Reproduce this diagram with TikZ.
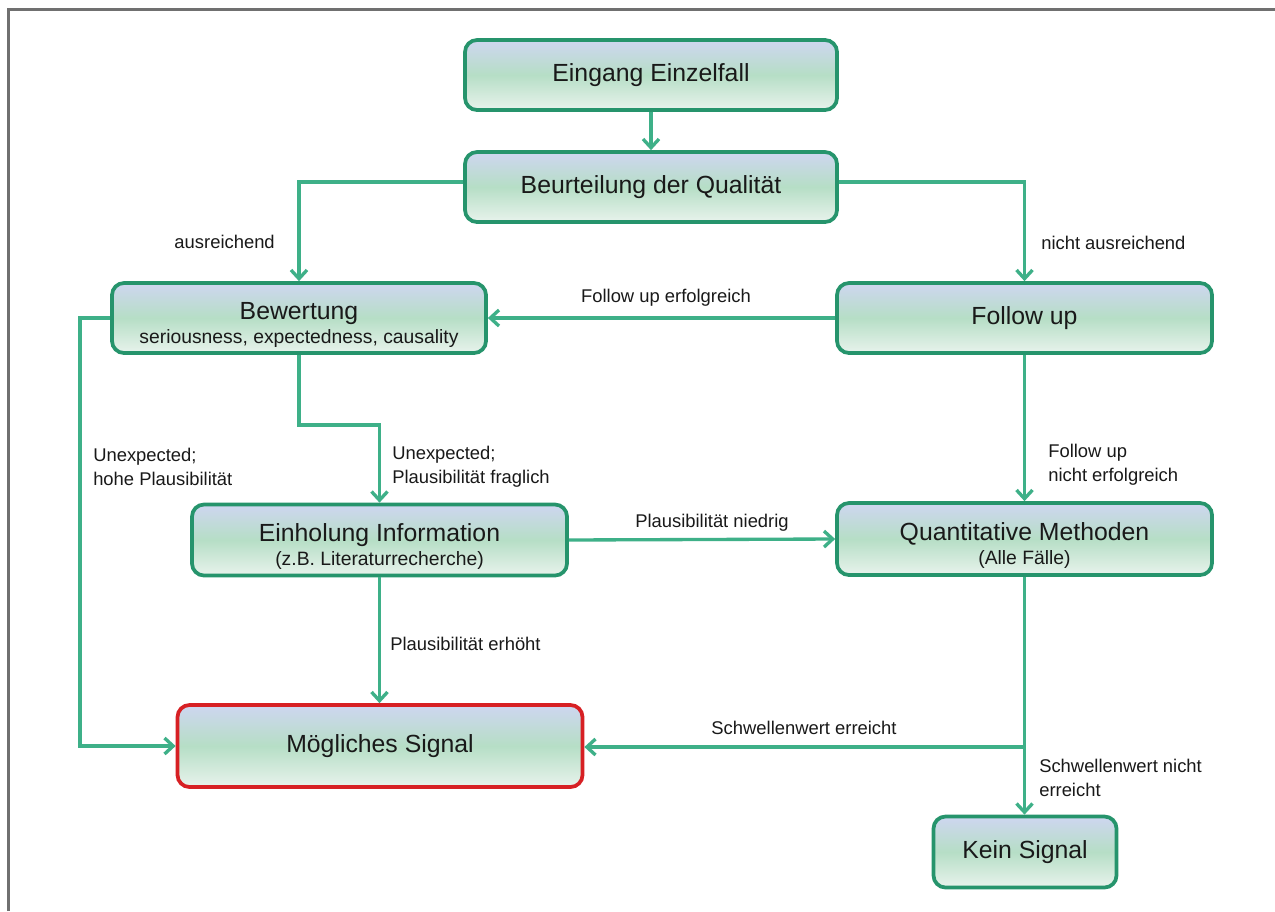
\documentclass[tikz,border=0pt]{standalone}
\usepackage{fontspec}
\setmainfont{Liberation Sans}
\usetikzlibrary{arrows.meta,calc}
\definecolor{boxgreen}{RGB}{38,148,108}
\definecolor{arrgreen}{RGB}{62,176,136}
\definecolor{sigred}{RGB}{215,32,36}
\definecolor{gtop}{RGB}{206,214,240}
\definecolor{gmid}{RGB}{182,222,198}
\definecolor{gbot}{RGB}{232,243,236}
\definecolor{framegrey}{RGB}{112,112,112}
\definecolor{txt}{RGB}{25,25,25}
\newcommand{\tstrut}{\rule{0pt}{23pt}}
\begin{document}
\begin{tikzpicture}[x=0.75pt,y=-0.75pt,
  box/.style={draw=boxgreen, line width=2.8pt, rounded corners=9pt,
    top color=gtop, bottom color=gbot, middle color=gmid,
    text=txt, align=center, inner sep=0pt,
    font=\fontsize{18.6}{20}\selectfont},
  dims/.style 2 args={minimum width=#1*0.75pt, minimum height=#2*0.75pt},
  conn/.style={draw=arrgreen, line width=2.5pt, -{Straight Barb[length=6.5pt,width=12pt]}},
  plain/.style={draw=arrgreen, line width=2.5pt},
  lbl/.style={font=\fontsize{13.8}{18}\selectfont, text=txt, align=left, inner sep=0pt}
]
\useasboundingbox (0,0) rectangle (1275,911);
\fill[white] (0,0) rectangle (1275,911);
\draw[framegrey, line width=1.6pt] (8.5,911) -- (8.5,9.5) -- (1275,9.5);

% boxes
\node[box, dims={372}{70}] (eing) at (651,75) {Eingang Einzelfall};
\node[box, dims={372}{70}] (beur) at (651,187) {Beurteilung der Qualität};
\node[box, dims={374}{70}] (bew) at (299,318) {\tstrut Bewertung\\[-2pt]{\fontsize{14.5}{17}\selectfont seriousness, expectedness, causality}};
\node[box, dims={375}{70}] (fu) at (1024.5,318) {Follow up};
\node[box, dims={375}{71}] (einh) at (379.5,540) {\tstrut Einholung Information\\[-2pt]{\fontsize{14.5}{17}\selectfont (z.B. Literaturrecherche)}};
\node[box, dims={375}{72}] (quant) at (1024.5,539) {\tstrut Quantitative Methoden\\[-2pt]{\fontsize{14.5}{17}\selectfont (Alle Fälle)}};
\node[box, draw=sigred, dims={405}{82}] (moeg) at (380,746) {Mögliches Signal};
\node[box, dims={183}{71}] (kein) at (1025,852) {Kein Signal};

% coordinates
\coordinate (lc) at (80,318);
\coordinate (bc) at (299,425);
\coordinate (br) at (1024.5,747);

% connectors
\draw[conn] (eing) -- (beur);
\draw[conn] ([yshift=3.75pt]beur.west) -| (bew.north);
\draw[conn] ([yshift=3.75pt]beur.east) -| (fu.north);
\draw[conn] (fu.west) -- (bew.east);
\draw[conn] (bew.south) -- (bc) -| (einh.north);
\draw[conn] (bew.west) -- (lc) |- (moeg.west);
\draw[conn] (fu.south) -- (quant.north);
\draw[conn] (einh.east) -- (quant.west);
\draw[conn] (einh.south) -- (einh.south |- moeg.north);
\draw[plain] (quant.south) -- (br);
\draw[conn] (br) -- (br -| moeg.east);
\draw[conn] (br) -- (br |- kein.north);

% labels
\node[lbl, anchor=east] (l1) at (275,242) {ausreichend};
\node[lbl, anchor=west] (l2) at (1041,243) {nicht ausreichend};
\node[lbl] (l3) at (666,298) {Follow up erfolgreich};
\node[lbl, anchor=west] (l4) at (93,467) {Unexpected;\\hohe Plausibilität};
\node[lbl, anchor=west] (l5) at (392,467) {Unexpected;\\Plausibilität fraglich};
\node[lbl, anchor=west] (l6) at (1048,465) {Follow up\\nicht erfolgreich};
\node[lbl] (l7) at (712,523) {Plausibilität niedrig};
\node[lbl, anchor=west] (l8) at (390,644) {Plausibilität erhöht};
\node[lbl] (l9) at (804,728) {Schwellenwert erreicht};
\node[lbl, anchor=west] (l10) at (1039,778) {Schwellenwert nicht\\erreicht};
\end{tikzpicture}
\end{document}
